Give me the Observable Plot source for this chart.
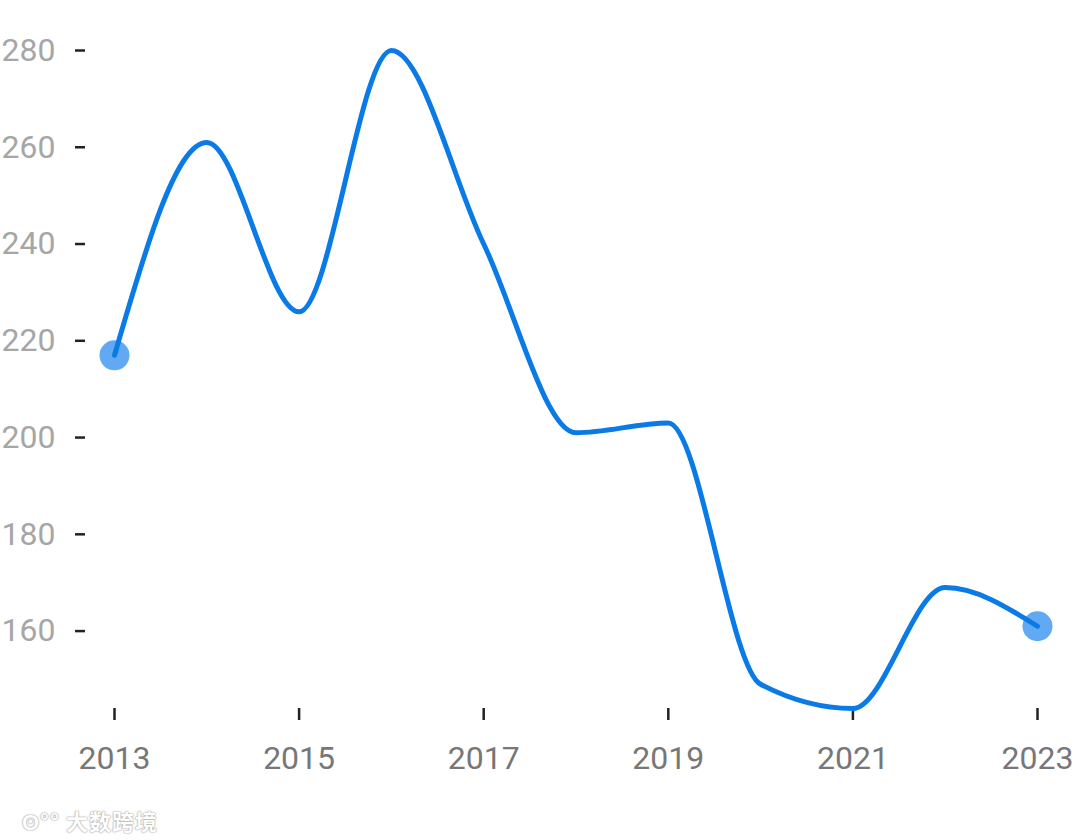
<!DOCTYPE html>
<html>
<head>
<meta charset="utf-8">
<script src="https://cdn.jsdelivr.net/npm/d3@7"></script>
<script src="https://cdn.jsdelivr.net/npm/@observablehq/plot@0.6"></script>
<style>
  html, body { margin: 0; padding: 0; background: #fff; }
  #wrap { position: relative; width: 1080px; height: 840px; font-family: Roboto, sans-serif; }
  #wm { position: absolute; left: 22px; top: 804px; font-family: "Noto Sans CJK SC", sans-serif;
        font-size: 22px; font-weight: 700; color: #fff; letter-spacing: 1px;
        text-shadow: 0 0 2px #999, 0 0 1px #999; }
</style>
</head>
<body>
<div id="wrap"><div id="wm">ʘ°° 大数跨境</div></div>
<script>
const years = [2013, 2014, 2015, 2016, 2017, 2018, 2019, 2020, 2021, 2022, 2023];
const values = [217, 261, 226, 280, 240, 201, 203, 149, 144, 169, 161];
const yTicks = [160, 180, 200, 220, 240, 260, 280];
const xTicks = [2013, 2015, 2017, 2019, 2021, 2023];

const data = years.map((year, i) => ({year, value: values[i]}));
const ends = [data[0], data[data.length - 1]];

const chart = Plot.plot({
  width: 1080,
  height: 840,
  marginTop: 50,
  marginBottom: 132,
  marginLeft: 114,
  marginRight: 43,
  style: {fontFamily: "Roboto, sans-serif", background: "transparent"},
  x: {domain: [2013, 2023]},
  y: {domain: [144, 280]},
  marks: [
    Plot.axisY({ticks: yTicks, tickSize: 10, dx: -29, tickPadding: 20, fontSize: 32,
      stroke: "#222", strokeWidth: 2.5, fill: "#a6a6a6", label: null}),
    Plot.axisX({ticks: xTicks, tickFormat: d => String(d), tickSize: 12, tickPadding: 26, fontSize: 32,
      stroke: "#222", strokeWidth: 2.5, fill: "#777", label: null}),
    Plot.dot(ends, {x: "year", y: "value", r: 15, fill: "#62a9f3"}),
    Plot.line(data, {x: "year", y: "value", curve: "monotone-x", stroke: "#0a7be6", strokeWidth: 5})
  ]
});
document.getElementById("wrap").prepend(chart);
</script>
</body>
</html>
